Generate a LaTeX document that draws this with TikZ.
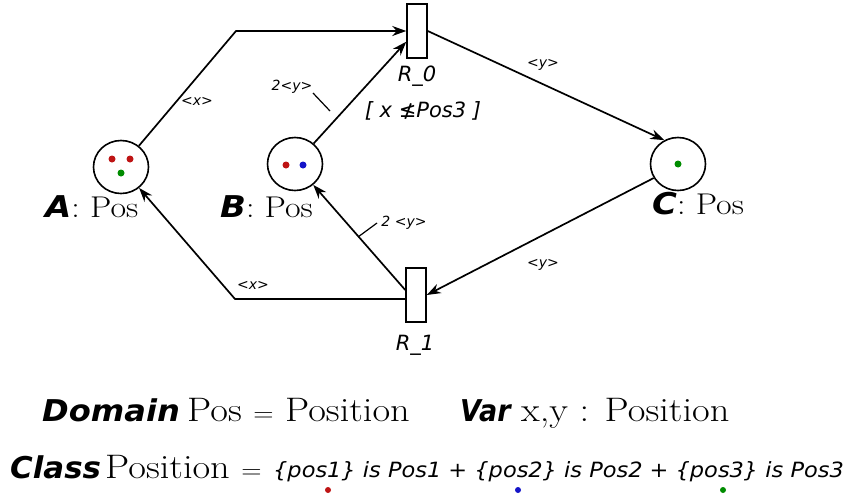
\documentclass[tikz,border=0pt]{standalone}
\usepackage{fontspec}
\usepackage{graphicx}
\newfontfamily\djv{DejaVu Sans}
\newcommand\hstretch[1]{\scalebox{1.13}[1]{#1}}
\usetikzlibrary{arrows.meta,shapes.geometric}
\definecolor{tokred}{RGB}{190,20,20}
\definecolor{tokblue}{RGB}{20,20,200}
\definecolor{tokgreen}{RGB}{0,140,0}
\begin{document}
\begin{tikzpicture}[x=1pt,y=-1pt,
  place/.style={ellipse,draw,line width=1.6pt,minimum width=55pt,minimum height=53pt,inner sep=0pt},
  trans/.style={rectangle,draw,line width=1.5pt,minimum width=20pt,minimum height=54pt,inner sep=0pt},
  arc/.style={line width=1.7pt,-{Stealth[length=14pt,width=10pt]}},
  tick/.style={line width=1.2pt},
  lbl/.style={font=\djv\itshape\fontsize{14}{16}\selectfont,inner sep=0pt},
  tname/.style={font=\djv\itshape\fontsize{21}{24}\selectfont,inner sep=0pt},
  plabel/.style={font=\fontsize{30}{34}\selectfont,inner sep=0pt,anchor=base west},
  kw/.style={font=\djv\bfseries\itshape\fontsize{30}{34}\selectfont,inner sep=0pt,anchor=base west},
  serif/.style={font=\fontsize{34}{38}\selectfont,inner sep=0pt,anchor=base west},
  tok/.style={circle,fill,inner sep=0pt,minimum size=7pt}]
\useasboundingbox (0,0) rectangle (850,498);
% places
\node[place] (A) at (121,167) {};
\node[place] (B) at (295,164) {};
\node[place] (C) at (678,164) {};
% transitions
\node[trans] (R0) at (417,31) {};
\node[trans] (R1) at (416,295) {};
% tokens
\node[tok,fill=tokred] (ta1) at (112,159) {};
\node[tok,fill=tokred] (ta2) at (130,159) {};
\node[tok,fill=tokgreen] (ta3) at (121,173) {};
\node[tok,fill=tokred] (tb1) at (286,165) {};
\node[tok,fill=tokblue] (tb2) at (303,165) {};
\node[tok,fill=tokgreen] (tc1) at (678,164) {};
% place labels
\node[plabel] (lA) at (45,217) {\hstretch{{\djv\bfseries\itshape A}: Pos}};
\node[plabel] (lB) at (220,217) {\hstretch{{\djv\bfseries\itshape B}: Pos}};
\node[plabel] (lC) at (652,214) {\hstretch{{\djv\bfseries\itshape C}: Pos}};
% transition labels
\node[tname] (n0) at (417,76) {R\_0};
\node[tname] (g0) at (423,111) {[ x ≰Pos3 ]};
\node[tname] (n1) at (415,345) {R\_1};
% arcs
\coordinate (a1) at (236,31);
\draw[arc] (A) -- (a1) -- (R0);
\draw[arc] (B) -- (R0.225);
\draw[arc] (R0.east) -- (C.120);
\draw[arc] (C.210) -- (R1.east);
\coordinate (a2) at (235,299);
\draw[arc] ([yshift=-4pt]R1.west) -- (a2) -- (A);
\draw[arc] (R1.155) -- (B);
% arc labels
\node[lbl] (x1) at (197,101) {<x>};
\node[lbl] (y1) at (292,87) {2<y>};
\draw[tick] (313,93) -- (330,111);
\node[lbl] (y2) at (543,65) {<y>};
\node[lbl] (y3) at (543,265) {<y>};
\node[lbl] (x2) at (253,285) {<x>};
\node[lbl] (y4) at (404,223) {2 <y>};
\draw[tick] (358,237) -- (377,223);
% bottom text
\node[kw] (dom) at (42,421) {\scalebox{1.07}[1]{Domain}};
\node[serif] (dom2) at (187,421) {\hstretch{Pos $=$ Position}};
\node[kw] (var) at (460,421) {\scalebox{0.9}[1]{Var}};
\node[serif] (var2) at (521,421) {\hstretch{x,y : Position}};
\node[kw] (cls) at (10,478) {\scalebox{1.03}[1]{Class}};
\node[serif] (cls2) at (105,478) {\hstretch{Position $=$}};
\node[font=\djv\itshape\fontsize{21}{24}\selectfont,inner sep=0pt,anchor=base west] (cls3) at (273,477) {\scalebox{1.07}[1]{\{pos1\} is Pos1 + \{pos2\} is Pos2 + \{pos3\} is Pos3}};
\node[tok,fill=tokred,minimum size=6pt] (d1) at (328,490) {};
\node[tok,fill=tokblue,minimum size=6pt] (d2) at (518,490) {};
\node[tok,fill=tokgreen,minimum size=6pt] (d3) at (723,490) {};
\end{tikzpicture}
\end{document}
